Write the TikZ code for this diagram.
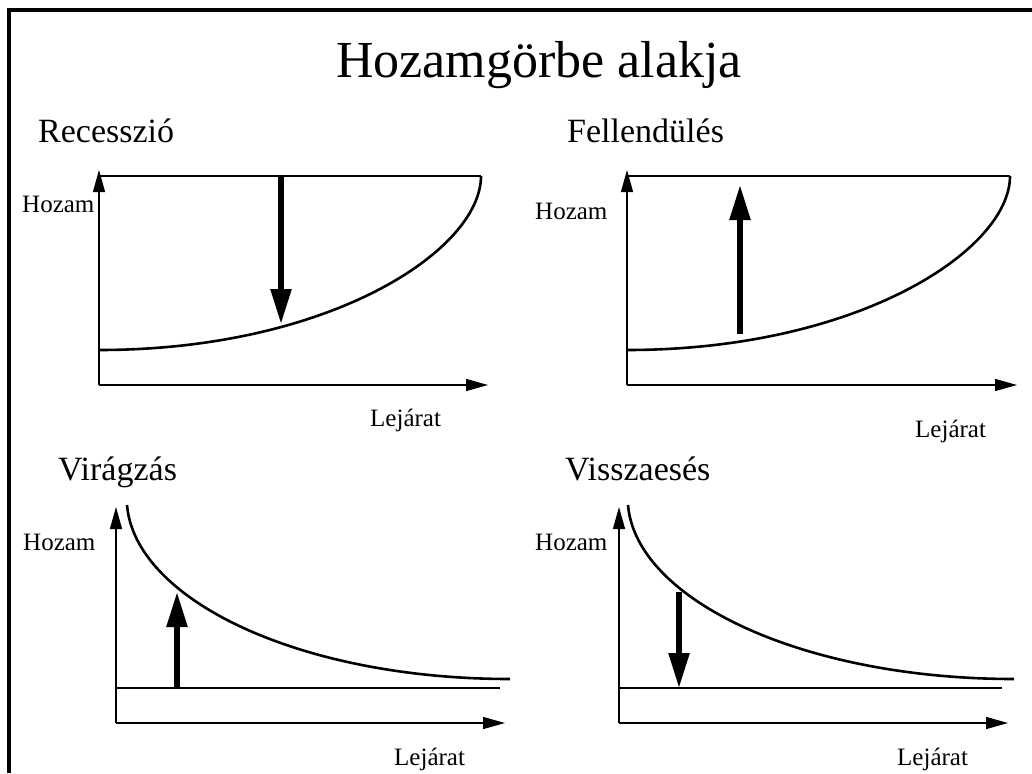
\documentclass[tikz,border=0pt]{standalone}
\usepackage{fontspec}
\setmainfont{Liberation Serif}
\usetikzlibrary{arrows.meta}
\begin{document}
\begin{tikzpicture}[x=1pt,y=-1pt,
  axisline/.style={line width=1.3pt,-{Triangle[length=22pt,width=12pt]}},
  curveline/.style={line width=2.6pt},
  bigarrow/.style={line width=5.5pt,-{Triangle[length=35pt,width=20pt]}},
  borderline/.style={line width=3.5pt},
  bigtitle/.style={anchor=base,inner sep=0pt,font=\fontsize{52}{60}\selectfont},
  paneltitle/.style={anchor=base west,inner sep=0pt,font=\fontsize{34}{40}\selectfont},
  axislabel/.style={anchor=base west,inner sep=0pt,font=\fontsize{25}{30}\selectfont}]
\useasboundingbox (0,0) rectangle (1032,773);
% border
\coordinate (b1) at (9,773);
\coordinate (b2) at (9,10);
\coordinate (b3) at (1032,10);
\draw[borderline] (b1) -- (b2) -- (b3);
% title
\node[bigtitle] (title) at (539,78) {Hozamgörbe alakja};
% ---------- panel 1: Recesszió
\node[paneltitle] (t1) at (38,142) {Recesszió};
\coordinate (o1) at (99,385);
\coordinate (y1) at (99,170);
\coordinate (x1) at (488,385);
\draw[axisline] (o1) -- (y1);
\draw[axisline] (o1) -- (x1);
\coordinate (l1a) at (99,176);
\coordinate (l1b) at (481,176);
\coordinate (c1a) at (99,350);
\draw[curveline] (l1a) -- (l1b);
\draw[curveline] (c1a) .. controls (330,350) and (481,250) .. (l1b);
\coordinate (a1s) at (281,176);
\coordinate (a1e) at (281,324);
\draw[bigarrow] (a1s) -- (a1e);
\node[axislabel] (h1) at (22,212) {Hozam};
\node[axislabel] (j1) at (370,426) {Lejárat};
% ---------- panel 2: Fellendülés
\node[paneltitle] (t2) at (567,142) {Fellendülés};
\coordinate (o2) at (627,385);
\coordinate (y2) at (627,170);
\coordinate (x2) at (1017,385);
\draw[axisline] (o2) -- (y2);
\draw[axisline] (o2) -- (x2);
\coordinate (l2a) at (627,176);
\coordinate (l2b) at (1010,176);
\coordinate (c2a) at (627,350);
\draw[curveline] (l2a) -- (l2b);
\draw[curveline] (c2a) .. controls (858,350) and (1010,250) .. (l2b);
\coordinate (a2s) at (740,334);
\coordinate (a2e) at (740,185);
\draw[bigarrow] (a2s) -- (a2e);
\node[axislabel] (h2) at (535,219) {Hozam};
\node[axislabel] (j2) at (915,437) {Lejárat};
% ---------- panel 3: Virágzás
\node[paneltitle] (t3) at (58,480) {Virágzás};
\coordinate (o3) at (116,723);
\coordinate (y3) at (116,507);
\coordinate (x3) at (505,723);
\draw[axisline] (o3) -- (y3);
\draw[axisline] (o3) -- (x3);
\coordinate (f3a) at (116,688);
\coordinate (f3b) at (500,688);
\draw[curveline] (f3a) -- (f3b);
\coordinate (c3a) at (127,505);
\coordinate (c3b) at (510,679);
\draw[curveline] (c3a) .. controls (135,600) and (300,679) .. (c3b);
\coordinate (a3s) at (177,688);
\coordinate (a3e) at (177,592);
\draw[bigarrow] (a3s) -- (a3e);
\node[axislabel] (h3) at (23,550) {Hozam};
\node[axislabel] (j3) at (394,765) {Lejárat};
% ---------- panel 4: Visszaesés
\node[paneltitle] (t4) at (565,480) {Visszaesés};
\coordinate (o4) at (619,723);
\coordinate (y4) at (619,507);
\coordinate (x4) at (1008,723);
\draw[axisline] (o4) -- (y4);
\draw[axisline] (o4) -- (x4);
\coordinate (f4a) at (619,688);
\coordinate (f4b) at (1002,688);
\draw[curveline] (f4a) -- (f4b);
\coordinate (c4a) at (628,505);
\coordinate (c4b) at (1014,679);
\draw[curveline] (c4a) .. controls (636,600) and (803,679) .. (c4b);
\coordinate (a4s) at (679,592);
\coordinate (a4e) at (679,688);
\draw[bigarrow] (a4s) -- (a4e);
\node[axislabel] (h4) at (535,550) {Hozam};
\node[axislabel] (j4) at (897,765) {Lejárat};
\end{tikzpicture}
\end{document}
